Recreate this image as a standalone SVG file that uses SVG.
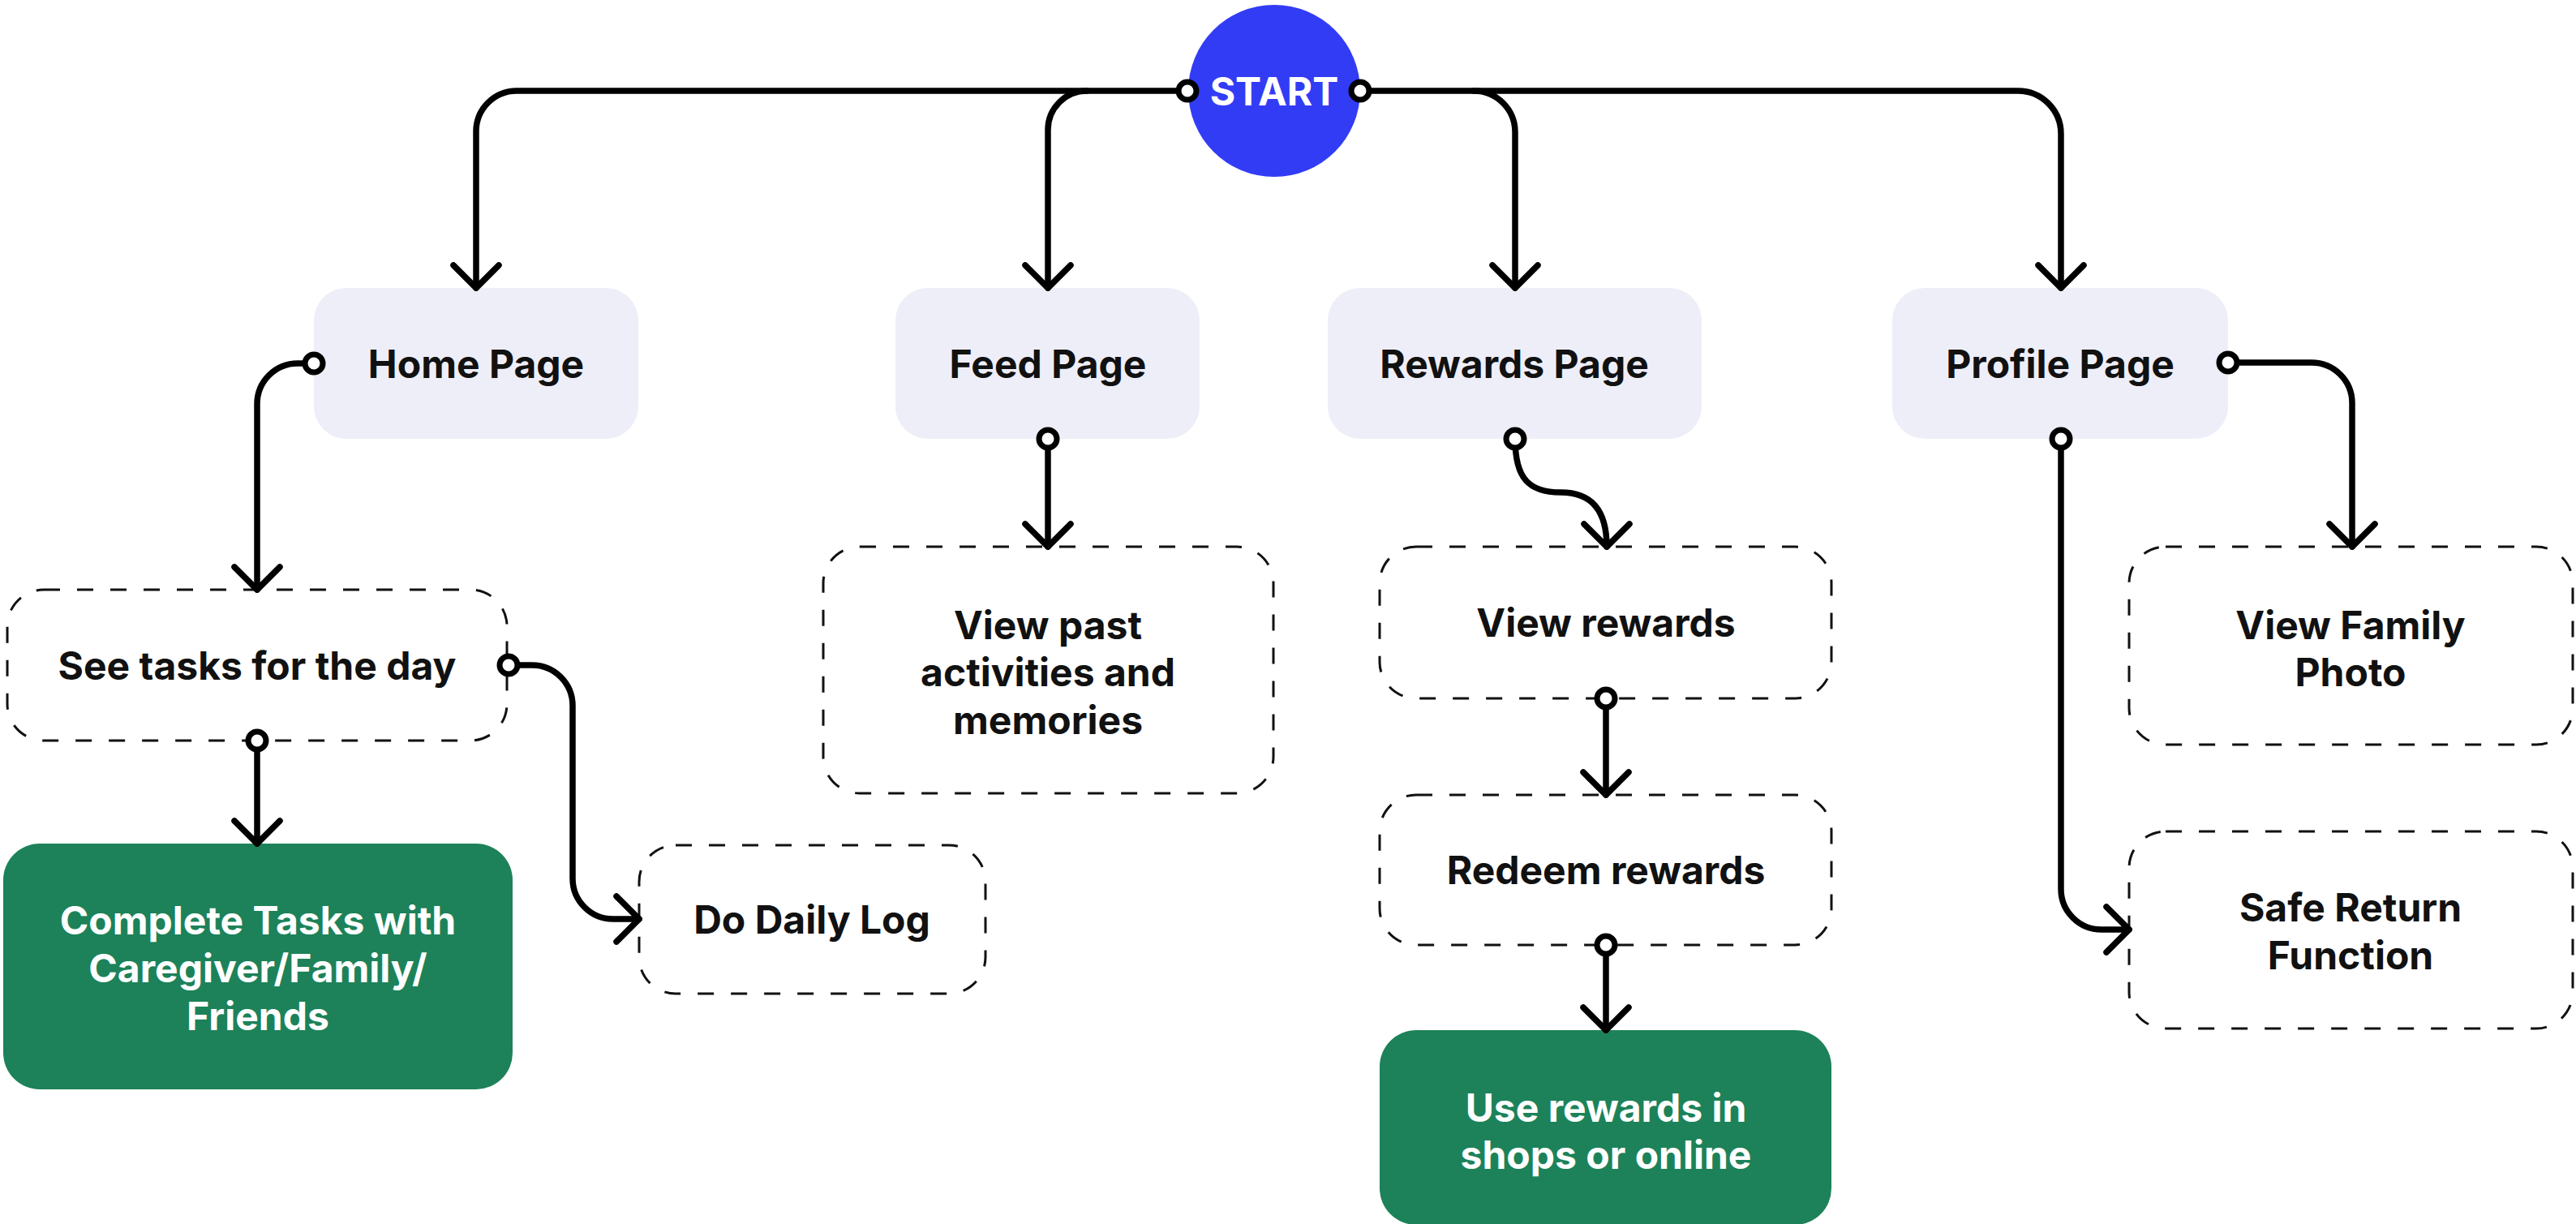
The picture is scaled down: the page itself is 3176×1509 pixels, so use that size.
<svg xmlns="http://www.w3.org/2000/svg" width="3176" height="1509" viewBox="0 0 3176 1509">
<style>
.page{fill:#EEEEF8}
.dash{fill:none;stroke:#111;stroke-width:3;stroke-dasharray:20 21}
.green{fill:#1D8259}
.t{font-family:Inter,"Noto Sans",sans-serif;font-weight:700;font-size:48px;fill:#111;text-anchor:middle}
.w{fill:#fff}
.c{fill:none;stroke:#000;stroke-width:7.5;stroke-linecap:round;stroke-linejoin:round}
</style>
<defs>
<marker id="arr" markerUnits="userSpaceOnUse" viewBox="-40 -40 80 80" markerWidth="80" markerHeight="80" refX="0" refY="0" orient="auto" overflow="visible">
<path d="M-28,-28 L0,0 L-28,28" fill="none" stroke="#000" stroke-width="7.5" stroke-linecap="round" stroke-linejoin="round"/>
</marker>
</defs>
<rect width="3176" height="1509" fill="#fff"/>

<g id="start">
<circle cx="1571" cy="112" r="106" fill="#333CF5"/>
<text class="t w" x="1571" y="130" font-size="45">START</text>
</g>
<g id="home">
<rect class="page" x="387" y="355" width="400" height="186" rx="40"/>
<text class="t" x="587" y="466">Home Page</text>
</g>
<g id="feed">
<rect class="page" x="1104" y="355" width="375" height="186" rx="40"/>
<text class="t" x="1292" y="466">Feed Page</text>
</g>
<g id="rewards">
<rect class="page" x="1637" y="355" width="461" height="186" rx="40"/>
<text class="t" x="1867" y="466">Rewards Page</text>
</g>
<g id="profile">
<rect class="page" x="2333" y="355" width="414" height="186" rx="40"/>
<text class="t" x="2540" y="466">Profile Page</text>
</g>
<g id="tasks">
<rect class="dash" x="9" y="727" width="616" height="186" rx="45"/>
<text class="t" x="317" y="838">See tasks for the day</text>
</g>
<g id="complete">
<rect class="green" x="4" y="1040" width="628" height="303" rx="45"/>
<text class="t w" x="318" y="1152">Complete Tasks with</text>
<text class="t w" x="318" y="1211">Caregiver/Family/</text>
<text class="t w" x="318" y="1270">Friends</text>
</g>
<g id="dailylog">
<rect class="dash" x="788" y="1042" width="427" height="183" rx="45"/>
<text class="t" x="1001" y="1151">Do Daily Log</text>
</g>
<g id="pastactivities">
<rect class="dash" x="1015" y="674" width="555" height="304" rx="45"/>
<text class="t" x="1292" y="788">View past</text>
<text class="t" x="1292" y="846">activities and</text>
<text class="t" x="1292" y="905">memories</text>
</g>
<g id="viewrewards">
<rect class="dash" x="1701" y="674" width="557" height="187" rx="45"/>
<text class="t" x="1980" y="785">View rewards</text>
</g>
<g id="redeem">
<rect class="dash" x="1701" y="980" width="557" height="185" rx="45"/>
<text class="t" x="1980" y="1090">Redeem rewards</text>
</g>
<g id="userewards">
<rect class="green" x="1701" y="1270" width="557" height="240" rx="45"/>
<text class="t w" x="1980" y="1383">Use rewards in</text>
<text class="t w" x="1980" y="1441">shops or online</text>
</g>
<g id="familyphoto">
<rect class="dash" x="2625" y="674" width="547" height="244" rx="45"/>
<text class="t" x="2898" y="788">View Family</text>
<text class="t" x="2898" y="846">Photo</text>
</g>
<g id="safereturn">
<rect class="dash" x="2625" y="1025" width="547" height="243" rx="45"/>
<text class="t" x="2898" y="1136">Safe Return</text>
<text class="t" x="2898" y="1195">Function</text>
</g>

<g id="connectors">
<path class="c" d="M1464 112 L637 112 A50 50 0 0 0 587 162 L587 355" marker-end="url(#arr)"/>
<path class="c" d="M1340 112 A48 48 0 0 0 1292 160 L1292 355" marker-end="url(#arr)"/>
<path class="c" d="M1677 112 L2488 112 A53 53 0 0 1 2541 165 L2541 355" marker-end="url(#arr)"/>
<path class="c" d="M1817 112 A51 51 0 0 1 1868 163 L1868 355" marker-end="url(#arr)"/>
<path class="c" d="M387 448 L367 448 A50 50 0 0 0 317 498 L317 727" marker-end="url(#arr)"/>
<path class="c" d="M317 913 L317 1040" marker-end="url(#arr)"/>
<path class="c" d="M627 820 L656 820 A50 50 0 0 1 706 870 L706 1083 A50 50 0 0 0 756 1133 L788 1133" marker-end="url(#arr)"/>
<path class="c" d="M1292 541 L1292 674" marker-end="url(#arr)"/>
<path class="c" d="M1868 541 C1868 590 1885 607 1924 607 C1963 607 1981 630 1981 674" marker-end="url(#arr)"/>
<path class="c" d="M1980 861 L1980 980" marker-end="url(#arr)"/>
<path class="c" d="M1980 1165 L1980 1270" marker-end="url(#arr)"/>
<path class="c" d="M2747 447 L2850 447 A50 50 0 0 1 2900 497 L2900 674" marker-end="url(#arr)"/>
<path class="c" d="M2541 541 L2541 1096 A50 50 0 0 0 2591 1146 L2625 1146" marker-end="url(#arr)"/>
<g fill="#fff" stroke="#000" stroke-width="7">
<circle cx="1464" cy="112" r="11"/>
<circle cx="1677" cy="112" r="11"/>
<circle cx="387" cy="448" r="11"/>
<circle cx="317" cy="913" r="11"/>
<circle cx="627" cy="820" r="11"/>
<circle cx="1292" cy="541" r="11"/>
<circle cx="1868" cy="541" r="11"/>
<circle cx="1980" cy="861" r="11"/>
<circle cx="1980" cy="1165" r="11"/>
<circle cx="2747" cy="447" r="11"/>
<circle cx="2541" cy="541" r="11"/>
</g>
</g>
</svg>
